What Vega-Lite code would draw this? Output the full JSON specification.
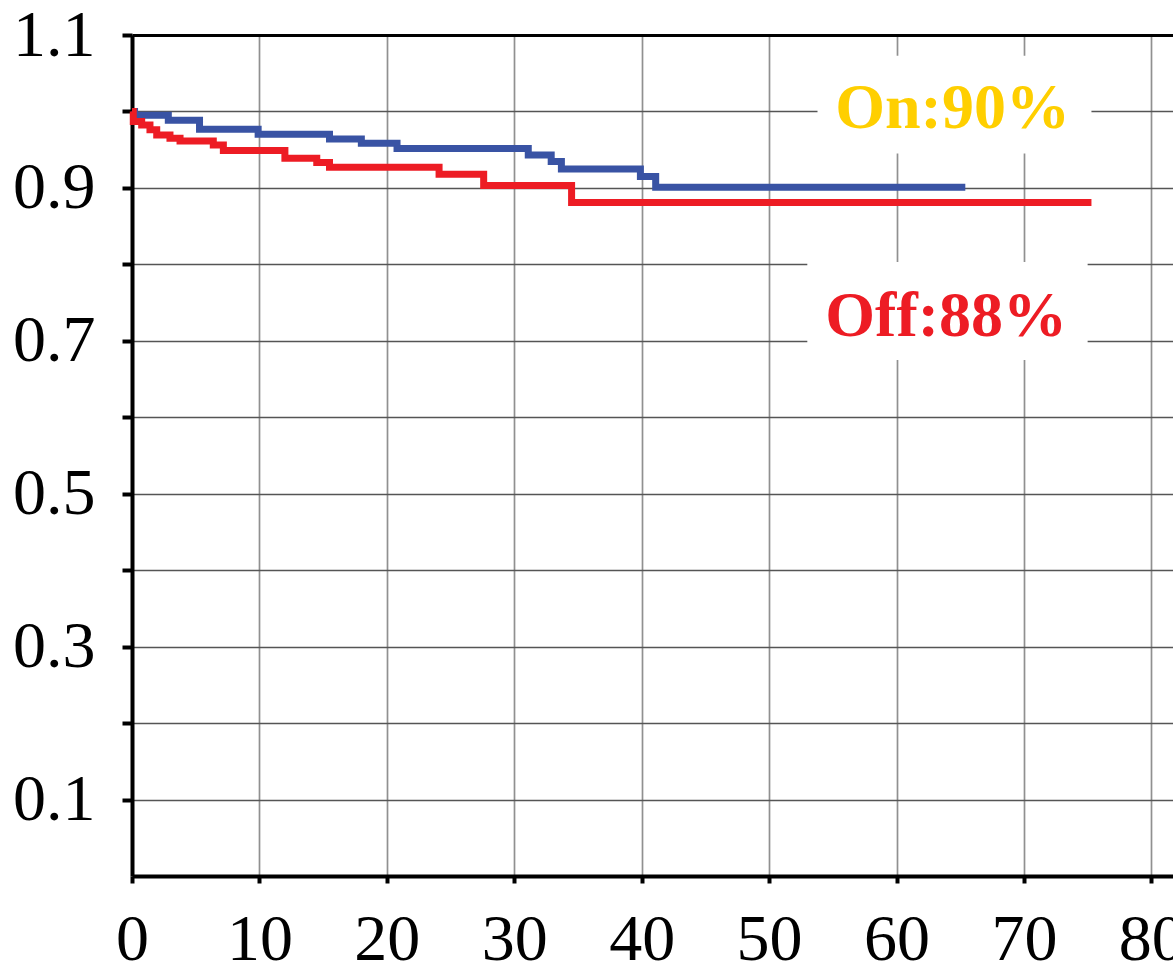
{
  "$schema": "https://vega.github.io/schema/vega-lite/v6.json",
  "width": 1041,
  "height": 841,
  "autosize": {"type": "none"},
  "padding": {"left": 132, "top": 35, "right": 0, "bottom": 92},
  "background": "white",
  "config": {"view": {"stroke": null}},
  "datasets": {
    "curves": [
      {"group": "On", "time": 0, "surv": 1.0},
      {"group": "On", "time": 0.2, "surv": 0.995},
      {"group": "On", "time": 2.85, "surv": 0.9885},
      {"group": "On", "time": 5.3, "surv": 0.9767},
      {"group": "On", "time": 9.9, "surv": 0.9702},
      {"group": "On", "time": 15.5, "surv": 0.9641},
      {"group": "On", "time": 18.0, "surv": 0.9584},
      {"group": "On", "time": 20.8, "surv": 0.9516},
      {"group": "On", "time": 31.1, "surv": 0.9431},
      {"group": "On", "time": 32.9, "surv": 0.9344},
      {"group": "On", "time": 33.7, "surv": 0.9248},
      {"group": "On", "time": 39.9, "surv": 0.9148},
      {"group": "On", "time": 41.1, "surv": 0.9009},
      {"group": "On", "time": 65.4, "surv": 0.9009},
      {"group": "Off", "time": 0, "surv": 1.0},
      {"group": "Off", "time": 0.1, "surv": 0.9867},
      {"group": "Off", "time": 0.76, "surv": 0.9824},
      {"group": "Off", "time": 1.41, "surv": 0.976},
      {"group": "Off", "time": 1.94, "surv": 0.9693},
      {"group": "Off", "time": 2.98, "surv": 0.965},
      {"group": "Off", "time": 3.77, "surv": 0.9615},
      {"group": "Off", "time": 6.38, "surv": 0.9562},
      {"group": "Off", "time": 7.17, "surv": 0.9489},
      {"group": "Off", "time": 12.0, "surv": 0.9388},
      {"group": "Off", "time": 14.5, "surv": 0.9331},
      {"group": "Off", "time": 15.5, "surv": 0.927},
      {"group": "Off", "time": 24.1, "surv": 0.9179},
      {"group": "Off", "time": 27.6, "surv": 0.9033},
      {"group": "Off", "time": 34.5, "surv": 0.8808},
      {"group": "Off", "time": 75.3, "surv": 0.8808}
    ],
    "labels": [
      {"group": "On", "text": "On:90%", "tx": 64.4, "ty": 0.978, "x1": 53.8, "x2": 75.3, "y1": 0.945, "y2": 1.073},
      {"group": "Off", "text": "Off:88%", "tx": 63.9, "ty": 0.7065, "x1": 53.0, "x2": 75.0, "y1": 0.675, "y2": 0.803}
    ]
  },
  "layer": [
    {
      "data": {"name": "curves"},
      "mark": {"type": "line", "interpolate": "step-after", "strokeWidth": 7},
      "encoding": {
        "x": {
          "field": "time", "type": "quantitative",
          "scale": {"domain": [0, 81.7], "nice": false, "zero": false},
          "axis": {
            "title": null,
            "values": [0, 10, 20, 30, 40, 50, 60, 70, 80],
            "format": "d",
            "domainColor": "black", "domainWidth": 4,
            "tickColor": "black", "tickWidth": 4, "tickSize": 7,
            "labelFont": "Liberation Serif", "labelFontSize": 66, "labelColor": "black",
            "labelPadding": 24, "labelFlush": false, "labelOverlap": false, "labelBound": false,
            "grid": true, "gridColor": "#909090", "gridWidth": 1.7
          }
        },
        "y": {
          "field": "surv", "type": "quantitative",
          "scale": {"domain": [0, 1.1], "nice": false, "zero": true},
          "axis": {
            "title": null,
            "values": [0.1, 0.2, 0.3, 0.4, 0.5, 0.6, 0.7, 0.8, 0.9, 1.0, 1.1],
            "labelExpr": "round(datum.value * 10) % 2 == 1 ? format(datum.value, '.1f') : ''",
            "domainColor": "black", "domainWidth": 4,
            "tickColor": "black", "tickWidth": 4, "tickSize": 10,
            "labelFont": "Liberation Serif", "labelFontSize": 66, "labelColor": "black",
            "labelPadding": 27, "labelFlush": false, "labelOverlap": false, "labelBound": false,
            "grid": true,
            "gridColor": {"condition": {"test": "datum.value > 1.05", "value": "black"}, "value": "#555555"},
            "gridWidth": {"condition": {"test": "datum.value > 1.05", "value": 3}, "value": 1.3}
          }
        },
        "color": {
          "field": "group", "type": "nominal",
          "scale": {"domain": ["On", "Off"], "range": ["#3953A4", "#ED1C24"]},
          "legend": null
        }
      }
    },
    {
      "data": {"name": "labels"},
      "mark": {"type": "rect", "fill": "white"},
      "encoding": {
        "x": {"field": "x1", "type": "quantitative", "title": null},
        "x2": {"field": "x2"},
        "y": {"field": "y1", "type": "quantitative", "title": null},
        "y2": {"field": "y2"}
      }
    },
    {
      "data": {"name": "labels"},
      "transform": [{"filter": "datum.group == 'On'"}],
      "mark": {"type": "text", "font": "Liberation Serif", "fontWeight": "bold", "fontSize": 64, "align": "center", "baseline": "alphabetic", "color": "#FFCF00"},
      "encoding": {
        "x": {"field": "tx", "type": "quantitative", "title": null},
        "y": {"field": "ty", "type": "quantitative", "title": null},
        "text": {"field": "text"}
      }
    },
    {
      "data": {"name": "labels"},
      "transform": [{"filter": "datum.group == 'Off'"}],
      "mark": {"type": "text", "font": "Liberation Serif", "fontWeight": "bold", "fontSize": 64, "align": "center", "baseline": "alphabetic", "color": "#ED1C24"},
      "encoding": {
        "x": {"field": "tx", "type": "quantitative", "title": null},
        "y": {"field": "ty", "type": "quantitative", "title": null},
        "text": {"field": "text"}
      }
    }
  ]
}
